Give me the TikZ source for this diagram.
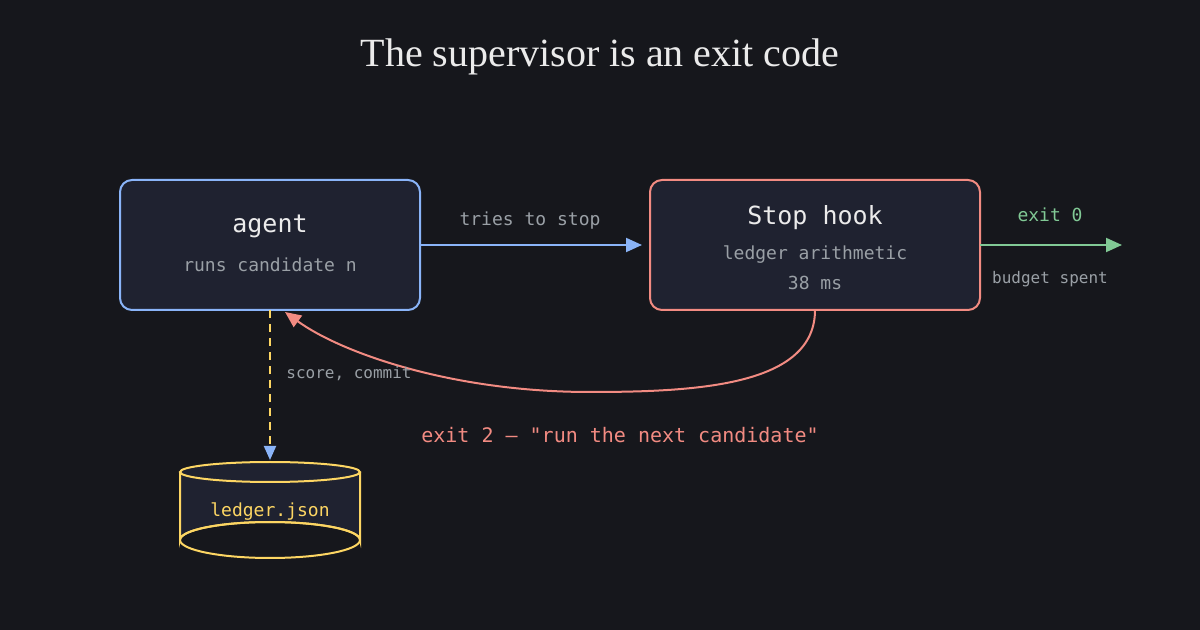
\documentclass[tikz,border=0pt]{standalone}
\usepackage{fontspec}
\setmonofont{DejaVu Sans Mono}
\newfontfamily\titlefont{Liberation Serif}
\usetikzlibrary{arrows.meta}
\definecolor{bg}{HTML}{16171C}
\definecolor{boxfill}{HTML}{1F2230}
\definecolor{blueln}{HTML}{8AB4F8}
\definecolor{redln}{HTML}{F28B82}
\definecolor{greenln}{HTML}{81C995}
\definecolor{yellowln}{HTML}{FDD663}
\definecolor{greytxt}{HTML}{9AA0A6}
\tikzset{
  box/.style={line width=1pt,fill=boxfill,rounded corners=6pt},
  lbl/.style={font=\ttfamily\fontsize{9}{11}\selectfont,text=greytxt,inner sep=0pt},
  tip/.style={-{Triangle[length=8pt,width=7pt]}}
}
\begin{document}
\begin{tikzpicture}[x=0.5pt,y=-0.5pt]
            % background and title
            \fill [bg] (0,0) rectangle (1200,630);
            \node (title) at (600,57) {\titlefont\fontsize{20}{24}\selectfont\color{white!92!black}The supervisor is an exit code};
            % boxes
            \draw [box,draw=blueln] (120,180) rectangle (420,310);
            \draw [box,draw=redln] (650,180) rectangle (980,310);
            \node (agent) at (270,226) {\ttfamily\fontsize{12.5}{14}\selectfont\color{white!92!black}agent};
            \node [lbl] (runs) at (270,265) {runs candidate n};
            \node (hook) at (815,218) {\ttfamily\fontsize{12.5}{14}\selectfont\color{white!92!black}Stop hook};
            \node [lbl] (arith) at (815,255) {ledger arithmetic};
            \node [lbl] (ms) at (815,283) {38 ms};
            \coordinate (agentE) at (420,245);
            \coordinate (hookE) at (980,245);
            \coordinate (hookW) at (642,245);
            \coordinate (hookS) at (815,310);
            \coordinate (agentS) at (270,310);
            \coordinate (agentSE) at (285,312);
            \coordinate (out) at (1122,245);
            % ledger cylinder
            \draw [yellowln,line width=1pt,fill=boxfill] (180,472) -- (180,540) arc (180:360:90 and 18) -- (360,472);
            \draw [yellowln,line width=1pt] (270,540) ellipse (90 and 18);
            \draw [yellowln,line width=1pt,fill=boxfill] (270,472) ellipse (90 and 10);
            \node [lbl,text=yellowln] (ledger) at (270,512) {ledger.json};
            \coordinate (ledgerN) at (270,460);
            % connectors
            \draw [tip,blueln,line width=1pt] (agentE) -- (hookW);
            \node [lbl] (tries) at (530,221) {tries to stop};
            \draw [tip,greenln,line width=1pt] (hookE) -- (out);
            \node [lbl,text=greenln] (exit0) at (1050,215) {exit 0};
            \node [lbl,font=\ttfamily\fontsize{8}{10}\selectfont] (spent) at (1050,279) {budget spent};
            \draw [tip,redln,line width=1pt] (hookS) .. controls (815,385) and (700,392) .. (590,392) .. controls (450,392) and (340,352) .. (agentSE);
            \node [lbl,text=redln,font=\ttfamily\fontsize{10}{12}\selectfont] (exit2) at (620,435) {exit 2 — "run the next candidate"};
            \draw [yellowln,line width=1pt,dash pattern=on 4pt off 3pt,-{Triangle[length=7pt,width=6pt,color=blueln]}] (agentS) -- (ledgerN);
            \node [lbl,anchor=west,font=\ttfamily\fontsize{8}{10}\selectfont] (score) at (286,374) {score, commit};
\end{tikzpicture}
\end{document}
